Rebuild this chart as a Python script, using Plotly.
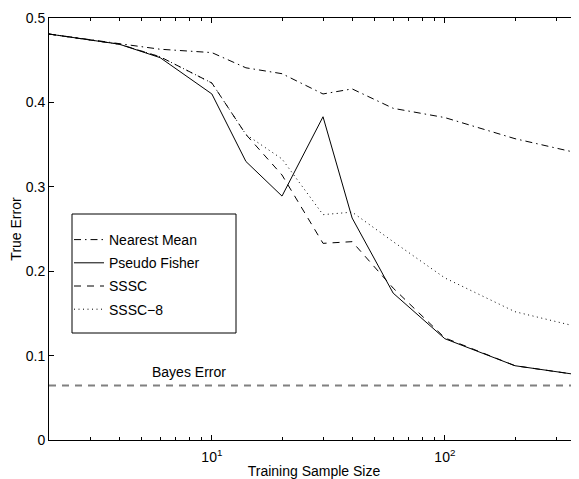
import plotly.graph_objects as go
import math

# ---- data ----
sample_size = [2, 4, 6, 10, 14, 20, 30, 40, 60, 100, 200, 400]
nearest_mean = [0.481, 0.470, 0.463, 0.459, 0.441, 0.434, 0.410, 0.416, 0.393, 0.382, 0.357, 0.338]
pseudo_fisher = [0.481, 0.469, 0.453, 0.410, 0.330, 0.289, 0.383, 0.263, 0.174, 0.120, 0.088, 0.076]
sssc = [0.481, 0.469, 0.454, 0.423, 0.362, 0.314, 0.233, 0.235, 0.180, 0.121, 0.088, 0.076]
sssc8 = [0.481, 0.469, 0.454, 0.423, 0.362, 0.333, 0.267, 0.270, 0.235, 0.192, 0.152, 0.132]
bayes_error = 0.0645
bayes_x = [2, 400]

y_ticks = [0, 0.1, 0.2, 0.3, 0.4, 0.5]
y_tick_labels = ["0", "0.1", "0.2", "0.3", "0.4", "0.5"]
x_major = [10, 100]
x_major_labels = ["10<sup>1</sup>", "10<sup>2</sup>"]
x_minor = [2, 3, 4, 5, 6, 7, 8, 9, 20, 30, 40, 50, 60, 70, 80, 90, 200, 300]

FONT = "Liberation Sans, Arial, Helvetica, sans-serif"
FS = 14

# page body has an 8px margin; the figure is sized so the plot area lands
# at x 49..579, y 18..440 of the window
OFF = 8
W, H = 579 - OFF, 479 - OFF
ML, MT, MB = 49 - OFF, 18 - OFF, 39
PW = W - ML          # 530
PH = H - MT - MB     # 422

fig = go.Figure()

series = [
    ("Nearest Mean", nearest_mean, "7px,4px,1.5px,4px"),
    ("Pseudo Fisher", pseudo_fisher, "solid"),
    ("SSSC", sssc, "7px,6px"),
    ("SSSC\u22128", sssc8, "1px,3.5px"),
]
for i, (name, vals, dash) in enumerate(series):
    fig.add_trace(go.Scatter(
        x=sample_size, y=vals, mode="lines", name=name,
        legendgroup=f"g{i}",
        line=dict(color="black", width=1, dash=dash),
    ))

fig.add_trace(go.Scatter(
    x=bayes_x, y=[bayes_error, bayes_error], mode="lines",
    showlegend=False, line=dict(color="#808080", width=2, dash="7px,6px"),
))

fig.add_annotation(
    x=math.log10(8.0), y=0.0806, xref="x", yref="y", text="Bayes Error",
    showarrow=False, font=dict(family=FONT, size=FS, color="black"),
)

# legend box (in window pixels: x 72..236, y 214..333)
fig.add_shape(type="rect", xref="paper", yref="paper",
              x0=(72 - 49) / PW, x1=(236 - 49) / PW,
              y0=(440 - 333) / PH, y1=(440 - 214) / PH,
              line=dict(color="black", width=1), fillcolor="white", layer="above")

fig.update_layout(
    width=W, height=H,
    margin=dict(l=ML, r=0, t=MT, b=MB, autoexpand=False),
    paper_bgcolor="white", plot_bgcolor="white",
    font=dict(family=FONT, size=FS, color="black"),
    showlegend=True,
    legend=dict(
        x=(69 - 49) / PW, y=(440 - 224) / PH, xanchor="left", yanchor="top",
        bgcolor="rgba(0,0,0,0)", borderwidth=0,
        font=dict(family=FONT, size=FS, color="black"),
        tracegroupgap=2, traceorder="grouped",
    ),
    xaxis=dict(
        type="log", range=[math.log10(2), math.log10(2) + PW / 233],
        automargin=False,
        tickmode="array", tickvals=x_major, ticktext=x_major_labels,
        ticks="inside", ticklen=5, tickwidth=1, tickcolor="black",
        ticklabelstandoff=4,
        minor=dict(tickmode="array", tickvals=x_minor, ticks="inside",
                   ticklen=3, tickwidth=1, tickcolor="black", showgrid=False),
        showline=True, linecolor="black", linewidth=1, mirror="ticks",
        showgrid=False, zeroline=False,
        title=dict(text="Training Sample Size", standoff=7,
                   font=dict(family=FONT, size=FS)),
    ),
    yaxis=dict(
        range=[0, 0.5], tickmode="array", tickvals=y_ticks, ticktext=y_tick_labels,
        automargin=False,
        ticks="inside", ticklen=5, tickwidth=1, tickcolor="black",
        showline=True, linecolor="black", linewidth=1, mirror=False,
        showgrid=False, zeroline=False,
        title=dict(text="True Error", standoff=3,
                   font=dict(family=FONT, size=FS)),
    ),
)

fig.write_html("out.html")
